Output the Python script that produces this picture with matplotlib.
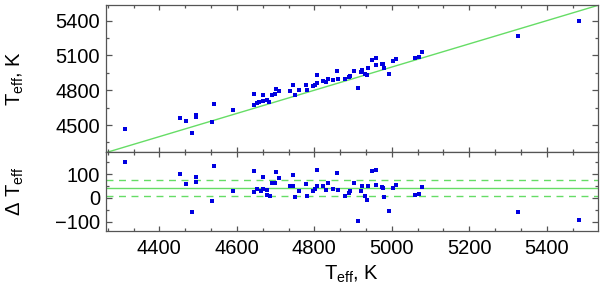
import matplotlib
matplotlib.use("Agg")
import matplotlib.pyplot as plt
from matplotlib.ticker import MultipleLocator

plt.rcParams['font.family'] = ['Liberation Sans', 'DejaVu Sans']
plt.rcParams['mathtext.fontset'] = 'custom'
plt.rcParams['mathtext.rm'] = 'Liberation Sans'
plt.rcParams['mathtext.it'] = 'Liberation Sans:italic'

# Upper panel: Teff (x) vs Teff (y)
x_upper = [4310, 4452, 4470, 4483, 4494, 4494, 4536, 4542, 4590, 4645, 4645, 4651,
           4658, 4668, 4668, 4677, 4682, 4691, 4698, 4702, 4710, 4738, 4745, 4749,
           4761, 4779, 4782, 4797, 4803, 4808, 4808, 4822, 4830, 4835, 4848, 4858,
           4861, 4880, 4890, 4891, 4903, 4914, 4920, 4924, 4930, 4935, 4939, 4948,
           4960, 4960, 4974, 4978, 4981, 4994, 5002, 5011, 5059, 5070, 5078, 5325,
           5483]
y_upper = [4466, 4560, 4535, 4431, 4586, 4566, 4526, 4678, 4627, 4765, 4673, 4693,
           4696, 4759, 4707, 4713, 4698, 4756, 4765, 4814, 4796, 4793, 4845, 4759,
           4799, 4842, 4799, 4834, 4845, 4862, 4929, 4877, 4874, 4900, 4891, 4963,
           4897, 4894, 4911, 4923, 4969, 4819, 4960, 4978, 4943, 4929, 4989, 5064,
           5081, 5018, 5026, 5023, 4989, 4940, 5049, 5070, 5075, 5090, 5130, 5271,
           5395]

# Lower panel: Teff (x) vs Delta Teff
x_lower = [4310, 4452, 4470, 4483, 4494, 4494, 4536, 4542, 4590, 4645, 4645, 4651,
           4663, 4668, 4668, 4677, 4677, 4686, 4691, 4698, 4702, 4710, 4738, 4745,
           4745, 4749, 4761, 4779, 4782, 4797, 4803, 4808, 4808, 4822, 4830, 4835,
           4848, 4858, 4861, 4880, 4890, 4891, 4903, 4914, 4920, 4924, 4930, 4935,
           4939, 4948, 4960, 4960, 4974, 4978, 4981, 4994, 5002, 5011, 5059, 5070,
           5078, 5325, 5483]
d_lower = [150, 102, 59, -59, 87, 67, -14, 133, 31, 113, 24, 36,
           31, 87, 38, 32, 13, 8, 64, 64, 108, 83, 52, 98,
           50, 4, 29, 59, 10, 31, 38, 118, 48, 48, 34, 64,
           39, 104, 32, 6, 20, 27, 62, -99, 31, 52, 8, -10,
           48, 111, 116, 55, 46, 43, 4, -57, 41, 56, 14, 17,
           46, -60, -94]

# Mean offset and +/- scatter lines in lower panel
mean_d = 41
sig_d = 33.5

xlim = (4263, 5533)
ylim_up = (4270, 5535)
ylim_lo = (-139, 194)

blue = '#0000e0'
green = '#66dd66'
spine_c = '#555555'

fig = plt.figure(figsize=(6, 2.85), dpi=100)
W, H = 600, 285
L, R = 106.3 / W, 598.3 / W
top_up, mid, bot = 1 - 5 / H, 1 - 151.7 / H, 1 - 231 / H
ax1 = fig.add_axes([L, mid, R - L, top_up - mid])
ax2 = fig.add_axes([L, bot, R - L, mid - bot])

ax1.plot([xlim[0], xlim[1]], [xlim[0], xlim[1]], color=green, lw=1, zorder=1)
ax1.plot(x_upper, y_upper, 's', color=blue, ms=3.2, mew=0, zorder=2)
ax1.set_xlim(*xlim)
ax1.set_ylim(*ylim_up)

ax2.axhline(mean_d, color=green, lw=1, zorder=1)
ax2.axhline(mean_d + sig_d, color=green, lw=1, dashes=(5, 4), zorder=1)
ax2.axhline(mean_d - sig_d, color=green, lw=1, dashes=(5, 4), zorder=1)
ax2.plot(x_lower, d_lower, 's', color=blue, ms=3.2, mew=0, zorder=2)
ax2.set_xlim(*xlim)
ax2.set_ylim(*ylim_lo)

for ax in (ax1, ax2):
    for s in ax.spines.values():
        s.set_color(spine_c)
        s.set_linewidth(0.9)
    ax.xaxis.set_major_locator(MultipleLocator(200))
    ax.xaxis.set_minor_locator(MultipleLocator(200 / 3))
    ax.tick_params(axis='both', which='both', direction='in', top=True, right=True,
                   colors=spine_c, labelcolor='black', labelsize=14.5, width=0.9)
    ax.tick_params(axis='x', which='major', length=3.5, pad=6)
    ax.tick_params(axis='x', which='minor', length=2)
    ax.tick_params(axis='y', which='major', length=4.5, pad=4.5)
    ax.tick_params(axis='y', which='minor', length=2.3)

ax1.yaxis.set_major_locator(MultipleLocator(300))
ax1.yaxis.set_minor_locator(MultipleLocator(150))
ax1.tick_params(axis='x', labelbottom=False)
ax2.yaxis.set_major_locator(MultipleLocator(100))
ax2.yaxis.set_minor_locator(MultipleLocator(50))

fig.text(352 / W, 1 - 280 / H, r'T$_{\mathrm{eff}}$, K', ha='center', va='baseline',
         fontsize=14.5)
fig.text(15 / W, 1 - 78 / H, r'T$_{\mathrm{eff}}$, K', ha='center', va='center',
         rotation=90, fontsize=14.5)
fig.text(15.5 / W, 1 - 191.5 / H, r'$\Delta$ T$_{\mathrm{eff}}$', ha='center', va='center',
         rotation=90, fontsize=14.5)

fig.savefig('out.png', dpi=100)
